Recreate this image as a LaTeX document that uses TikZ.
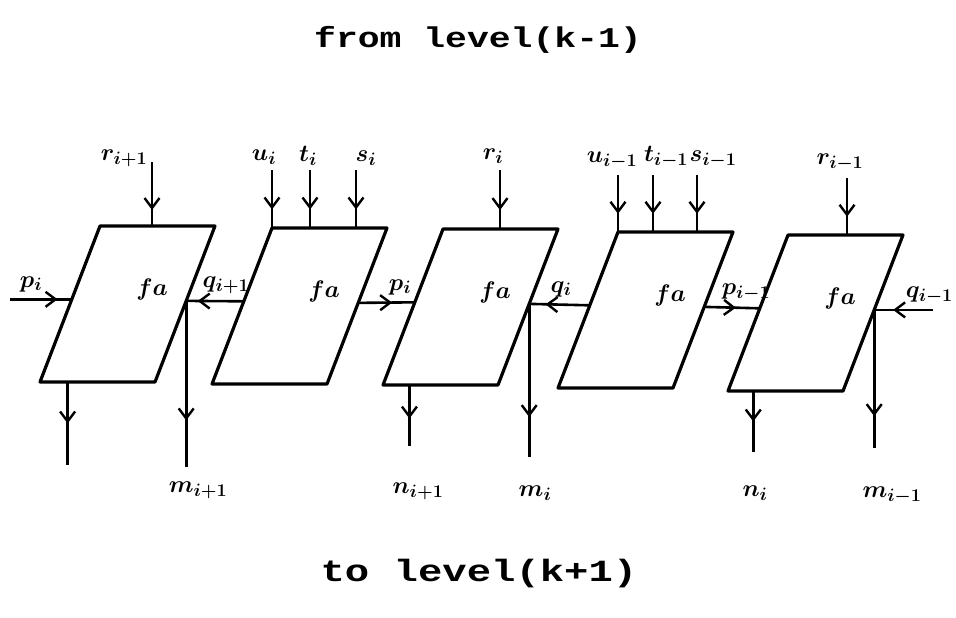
\RequirePackage{fix-cm}
\documentclass[tikz,border=0pt]{standalone}
\usepackage{fontspec}
\usepackage{graphicx}
\usetikzlibrary{arrows.meta, calc, decorations.markings}
\newfontfamily\plotterfont{Liberation Mono}
\DeclareMathSizes{24}{24}{18}{14}

\begin{document}
\begin{tikzpicture}[
    x=1pt, y=-1pt,
    cell/.style={line width=3.2pt, line join=round},
    wire/.style={line width=2.6pt},
    midtip/.style={wire, postaction={decorate},
      decoration={markings, mark=at position #1 with {\arrow{Straight Barb[length=10pt, width=15pt, line width=2.4pt]}}}},
    sig/.style={font=\fontsize{24}{26}\selectfont\boldmath, inner sep=1pt},
    lvl/.style={font=\plotterfont\fontsize{26}{30}\selectfont\bfseries, inner sep=0pt}
  ]

    %% ═══════ FRAME (956 x 618, y downwards) ═══════
    \useasboundingbox (0,0) rectangle (956,618);

    %% ── level captions ──
    \node[lvl, anchor=base] (from) at (478,48) {\scalebox{1.4}[1.1]{from level(k-1)}};
    \node[lvl, anchor=base, font=\plotterfont\fontsize{28}{32}\selectfont\bfseries]
      (to) at (479,581) {\scalebox{1.45}[1.1]{to level(k+1)}};

    %% ── five fa cells (parallelograms) ──
    \foreach \n/\x/\y in {1/100/226, 2/272/228, 3/443/229, 4/618/232, 5/788/235} {
      \coordinate (b\n-tl) at (\x,\y);
      \coordinate (b\n-tr) at (\x+115,\y);
      \coordinate (b\n-br) at (\x+55,\y+156);
      \coordinate (b\n-bl) at (\x-60,\y+156);
      \draw[cell] (b\n-tl) -- (b\n-tr) -- (b\n-br) -- (b\n-bl) -- cycle;
      \node[sig] (fa\n) at ($(b\n-tl)+(52,63)$) {$fa$};
      \coordinate (b\n-l) at ($(b\n-tl)!0.47!(b\n-bl)$);
      \coordinate (b\n-r) at ($(b\n-tr)!0.48!(b\n-br)$);
    }

    %% ═══════ INPUTS FROM ABOVE ═══════
    \coordinate (in-r1)  at ($(b1-tl)+(52,-64)$);
    \coordinate (in-u2)  at ($(b2-tl)+(0,-58)$);
    \coordinate (in-t2)  at ($(b2-tl)+(38,-58)$);
    \coordinate (in-s2)  at ($(b2-tl)+(84,-58)$);
    \coordinate (in-r3)  at ($(b3-tl)+(57,-59)$);
    \coordinate (in-u4)  at ($(b4-tl)+(0,-57)$);
    \coordinate (in-t4)  at ($(b4-tl)+(35,-57)$);
    \coordinate (in-s4)  at ($(b4-tl)+(79,-57)$);
    \coordinate (in-r5)  at ($(b5-tl)+(59,-57)$);

    \draw[midtip=0.75] (in-r1) -- (in-r1 |- b1-tl);
    \draw[midtip=0.68] (in-u2) -- (in-u2 |- b2-tl);
    \draw[midtip=0.68] (in-t2) -- (in-t2 |- b2-tl);
    \draw[midtip=0.68] (in-s2) -- (in-s2 |- b2-tl);
    \draw[midtip=0.68] (in-r3) -- (in-r3 |- b3-tl);
    \draw[midtip=0.68] (in-u4) -- (in-u4 |- b4-tl);
    \draw[midtip=0.68] (in-t4) -- (in-t4 |- b4-tl);
    \draw[midtip=0.68] (in-s4) -- (in-s4 |- b4-tl);
    \draw[midtip=0.68] (in-r5) -- (in-r5 |- b5-tl);

    \node[sig] (lab-r1) at (124,158) {$r_{i+1}$};
    \node[sig] (lab-u2) at (264,157) {$u_i$};
    \node[sig] (lab-t2) at (308,156) {$t_i$};
    \node[sig] (lab-s2) at (366,158) {$s_i$};
    \node[sig] (lab-r3) at (493,156) {$r_i$};
    \node[sig] (lab-u4) at (612,160) {$u_{i-1}$};
    \node[sig] (lab-t4) at (666,157) {$t_{i-1}$};
    \node[sig] (lab-s4) at (713,159) {$s_{i-1}$};
    \node[sig] (lab-r5) at (840,162) {$r_{i-1}$};

    %% ═══════ CARRIES BETWEEN CELLS ═══════
    \coordinate (p-in) at ($(b1-l)+(-62,0)$);
    \coordinate (q-in) at ($(b5-r)+(59,0)$);
    \draw[midtip=0.77] (p-in) -- (b1-l);
    \draw[midtip=0.80] (b2-l) -- (b1-r);
    \draw[midtip=0.60] (b2-r) -- (b3-l);
    \draw[midtip=0.73] (b4-l) -- (b3-r);
    \draw[midtip=0.57] (b4-r) -- (b5-l);
    \draw[midtip=0.68] (q-in) -- (b5-r);

    \node[sig] (lab-p1) at (31,284)  {$p_i$};
    \node[sig] (lab-q1) at (226,285) {$q_{i+1}$};
    \node[sig] (lab-p3) at (400,287) {$p_i$};
    \node[sig] (lab-q3) at (561,289) {$q_i$};
    \node[sig] (lab-p5) at (746,292) {$p_{i-1}$};
    \node[sig, anchor=east] (lab-q5) at (954,295) {$q_{i-1}$};

    %% ═══════ OUTPUTS TO LEVEL BELOW ═══════
    \coordinate (m1) at ($(b1-r)+(0,166)$);
    \coordinate (m3) at ($(b3-r)+(0,153)$);
    \coordinate (m5) at ($(b5-r)+(0,138)$);
    \draw[midtip=0.72] (b1-r) -- (m1);
    \draw[midtip=0.74] (b3-r) -- (m3);
    \draw[midtip=0.77] (b5-r) -- (m5);

    \coordinate (o1) at ($(b1-bl)!0.24!(b1-br)$);
    \coordinate (o3) at ($(b3-bl)!0.23!(b3-br)$);
    \coordinate (o5) at ($(b5-bl)!0.22!(b5-br)$);
    \draw[midtip=0.50] (o1) -- ++(0,83) coordinate (n1);
    \draw[midtip=0.55] (o3) -- ++(0,61) coordinate (n3);
    \draw[midtip=0.50] (o5) -- ++(0,61) coordinate (n5);

    \node[sig] (lab-m1) at (198,490) {$m_{i+1}$};
    \node[sig] (lab-n3) at (418,491) {$n_{i+1}$};
    \node[sig] (lab-m3) at (535,493) {$m_i$};
    \node[sig] (lab-n5) at (755,493) {$n_i$};
    \node[sig] (lab-m5) at (892,495) {$m_{i-1}$};

\end{tikzpicture}
\end{document}
